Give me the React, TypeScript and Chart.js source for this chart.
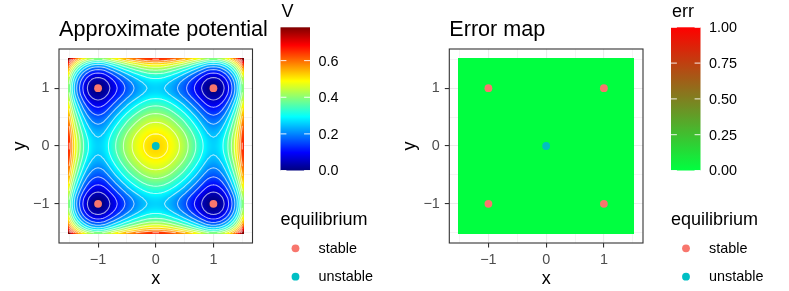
import React, { useEffect, useRef } from "react";
import { Chart, registerables } from "chart.js";

Chart.register(...registerables);

const FONT = "'Liberation Sans', Arial, Helvetica, sans-serif";
const W = 789;
const H = 291;

// ---------------- data ----------------
const GRID_COORDS = [
  -1.5, -1.45, -1.4, -1.35, -1.3, -1.25, -1.2, -1.15, -1.1, -1.05,
  -1.0, -0.95, -0.9, -0.85, -0.8, -0.75, -0.7, -0.65, -0.6, -0.55,
  -0.5, -0.45, -0.4, -0.35, -0.3, -0.25, -0.2, -0.15, -0.1, -0.05,
  0.0, 0.05, 0.1, 0.15, 0.2, 0.25, 0.3, 0.35, 0.4, 0.45,
  0.5, 0.55, 0.6, 0.65, 0.7, 0.75, 0.8, 0.85, 0.9, 0.95,
  1.0, 1.05, 1.1, 1.15, 1.2, 1.25, 1.3, 1.35, 1.4, 1.45, 1.5,
];

// potential read along one axis (through the minima); V(x,y) = profile(x) + profile(y)
const POTENTIAL_PROFILE = [
  0.391, 0.303, 0.232, 0.176, 0.129, 0.089, 0.057, 0.032, 0.014, 0.004,
  0.000, 0.004, 0.013, 0.029, 0.048, 0.068, 0.088, 0.107, 0.126, 0.144,
  0.162, 0.178, 0.193, 0.207, 0.220, 0.232, 0.242, 0.250, 0.256, 0.259,
  0.260, 0.259, 0.256, 0.250, 0.242, 0.232, 0.220, 0.207, 0.193, 0.178,
  0.162, 0.144, 0.126, 0.107, 0.088, 0.068, 0.048, 0.029, 0.013, 0.004,
  0.000, 0.004, 0.014, 0.032, 0.057, 0.089, 0.129, 0.176, 0.232, 0.303, 0.391,
];

// error map row (every row equal)
const ERROR_ROW = [
  0, 0, 0, 0, 0, 0, 0, 0, 0, 0, 0, 0, 0, 0, 0, 0, 0, 0, 0, 0,
  0, 0, 0, 0, 0, 0, 0, 0, 0, 0, 0, 0, 0, 0, 0, 0, 0, 0, 0, 0,
  0, 0, 0, 0, 0, 0, 0, 0, 0, 0, 0, 0, 0, 0, 0, 0, 0, 0, 0, 0, 0,
];

const STABLE_X = [-1, 1, -1, 1];
const STABLE_Y = [1, 1, -1, -1];
const UNSTABLE_X = [0];
const UNSTABLE_Y = [0];

const AXIS_MAJOR = [-1, 0, 1];
const AXIS_MINOR = [-1.5, -0.5, 0.5, 1.5];
const CONTOUR_LEVELS = [0.05, 0.1, 0.15, 0.2, 0.25, 0.3, 0.35, 0.4, 0.45, 0.5, 0.55, 0.6, 0.65, 0.7, 0.75];

const V_TICKS = [0, 0.2, 0.4, 0.6];
const V_TICK_LABELS = ["0.0", "0.2", "0.4", "0.6"];
const ERR_TICKS = [0, 0.25, 0.5, 0.75, 1];
const ERR_TICK_LABELS = ["0.00", "0.25", "0.50", "0.75", "1.00"];
const ERR_LIMITS = [0, 1];

const TITLES = ["Approximate potential", "Error map"];
const FILL_TITLES = ["V", "err"];
const LEGEND_TITLE = "equilibrium";
const LEGEND_LABELS = ["stable", "unstable"];

// colours
const JET = ["#00007F", "#0000FF", "#007FFF", "#00FFFF", "#7FFF7F", "#FFFF00", "#FF7F00", "#FF0000", "#7F0000"];
const ERR_LOW_HIGH = ["#00FF40", "#FF0000"];
const STABLE_COLOR = "#F8766D";
const UNSTABLE_COLOR = "#00BFC4";

// ---------------- colour helpers (linear RGB interpolation) ----------------
function hexToRgb(h: string): number[] {
  const n = parseInt(h.slice(1), 16);
  return [(n >> 16) & 255, (n >> 8) & 255, n & 255];
}
function makeRamp(colors: string[]) {
  const rgbs = colors.map(hexToRgb);
  return (t: number): number[] => {
    t = Math.max(0, Math.min(1, t));
    const p = t * (rgbs.length - 1);
    const k = Math.min(Math.floor(p), rgbs.length - 2);
    const f = p - k;
    const a = rgbs[k], b = rgbs[k + 1];
    return [0, 1, 2].map((q) => Math.round(a[q] + (b[q] - a[q]) * f));
  };
}
const css = (c: number[]) => `rgb(${c[0]},${c[1]},${c[2]})`;
const jetRamp = makeRamp(JET);
const errRamp = makeRamp(ERR_LOW_HIGH);

// ---------------- grids built from the arrays ----------------
const POT_GRID: number[][] = GRID_COORDS.map((_, j) => GRID_COORDS.map((__, i) => POTENTIAL_PROFILE[i] + POTENTIAL_PROFILE[j]));
const ERR_GRID: number[][] = GRID_COORDS.map(() => ERROR_ROW.slice());

function gridRange(g: number[][]): [number, number] {
  let lo = Infinity, hi = -Infinity;
  g.forEach((r) => r.forEach((v) => { if (v < lo) lo = v; if (v > hi) hi = v; }));
  return [lo, hi];
}

// ---------------- layout constants ----------------
const PANEL_TOP = 49;
const PANEL_BOTTOM = 243;
const Y_AXIS_W = 59;
const BAR_TOP = 27.3;
const BAR_BOTTOM = 170.5;
const BAR_W = 29.5;
const HALF_STEP = (GRID_COORDS[1] - GRID_COORDS[0]) / 2;
const AX_MIN = GRID_COORDS[0] - HALF_STEP - (GRID_COORDS[GRID_COORDS.length - 1] - GRID_COORDS[0] + 2 * HALF_STEP) * 0.05;
const AX_MAX = -AX_MIN;

type Spec = {
  left: number;
  right: number;
  title: string;
  fillTitle: string;
  grid: number[][];
  limits: [number, number];
  ramp: (t: number) => number[];
  contours: boolean;
  ticks: number[];
  tickLabels: string[];
};

const SPECS: Spec[] = [
  {
    left: 59, right: 252.5, title: TITLES[0], fillTitle: FILL_TITLES[0], grid: POT_GRID,
    limits: gridRange(POT_GRID), ramp: jetRamp, contours: true, ticks: V_TICKS, tickLabels: V_TICK_LABELS,
  },
  {
    left: 449.3, right: 643, title: TITLES[1], fillTitle: FILL_TITLES[1], grid: ERR_GRID,
    limits: [ERR_LIMITS[0], ERR_LIMITS[1]], ramp: errRamp, contours: false, ticks: ERR_TICKS, tickLabels: ERR_TICK_LABELS,
  },
];

function contourSegments(grid: number[][], level: number): number[][] {
  const xs = GRID_COORDS, ys = GRID_COORDS;
  const segs: number[][] = [];
  for (let j = 0; j < ys.length - 1; j++) {
    for (let i = 0; i < xs.length - 1; i++) {
      const v00 = grid[j][i], v10 = grid[j][i + 1], v01 = grid[j + 1][i], v11 = grid[j + 1][i + 1];
      const pts: (number[] | null)[] = [];
      const edge = (va: number, vb: number, xa: number, ya: number, xb: number, yb: number) => {
        if ((va < level) !== (vb < level)) {
          const f = (level - va) / (vb - va);
          pts.push([xa + f * (xb - xa), ya + f * (yb - ya)]);
        } else pts.push(null);
      };
      edge(v00, v10, xs[i], ys[j], xs[i + 1], ys[j]); // bottom
      edge(v10, v11, xs[i + 1], ys[j], xs[i + 1], ys[j + 1]); // right
      edge(v11, v01, xs[i + 1], ys[j + 1], xs[i], ys[j + 1]); // top
      edge(v01, v00, xs[i], ys[j + 1], xs[i], ys[j]); // left
      const present = pts.filter((p) => p) as number[][];
      if (present.length === 2) {
        segs.push([present[0][0], present[0][1], present[1][0], present[1][1]]);
      } else if (present.length === 4) {
        const c = (v00 + v10 + v01 + v11) / 4;
        const [b, r, t, l] = pts as number[][];
        if ((c < level) === (v00 < level)) {
          segs.push([b[0], b[1], r[0], r[1]]);
          segs.push([t[0], t[1], l[0], l[1]]);
        } else {
          segs.push([b[0], b[1], l[0], l[1]]);
          segs.push([r[0], r[1], t[0], t[1]]);
        }
      }
    }
  }
  return segs;
}

function fmtAxis(v: number) {
  return v < 0 ? "\u2212" + Math.abs(v) : String(v);
}
const isMajor = (v: any) => AXIS_MAJOR.includes(v);

function rasterImage(spec: Spec): HTMLCanvasElement {
  const n = GRID_COORDS.length;
  const off = document.createElement("canvas");
  off.width = n;
  off.height = n;
  const octx = off.getContext("2d") as CanvasRenderingContext2D;
  const img = octx.createImageData(n, n);
  const [lo, hi] = spec.limits;
  for (let j = 0; j < n; j++) {
    const row = n - 1 - j; // highest y on top
    for (let i = 0; i < n; i++) {
      const v = spec.grid[j][i];
      const c = spec.ramp(hi > lo ? (v - lo) / (hi - lo) : 0);
      const o = (row * n + i) * 4;
      img.data[o] = c[0];
      img.data[o + 1] = c[1];
      img.data[o + 2] = c[2];
      img.data[o + 3] = 255;
    }
  }
  octx.putImageData(img, 0, 0);
  return off;
}

function makePlugin(spec: Spec) {
  const raster = rasterImage(spec);
  return {
    id: "panelDecor",
    beforeDatasetsDraw(chart: any) {
      const ctx = chart.ctx as CanvasRenderingContext2D;
      const xs = chart.scales.x, ys = chart.scales.y;
      const n = GRID_COORDS.length;
      const x0 = xs.getPixelForValue(GRID_COORDS[0] - HALF_STEP);
      const x1 = xs.getPixelForValue(GRID_COORDS[n - 1] + HALF_STEP);
      const y0 = ys.getPixelForValue(GRID_COORDS[n - 1] + HALF_STEP);
      const y1 = ys.getPixelForValue(GRID_COORDS[0] - HALF_STEP);
      ctx.save();
      ctx.imageSmoothingEnabled = true;
      (ctx as any).imageSmoothingQuality = "high";
      ctx.drawImage(raster, x0, y0, x1 - x0, y1 - y0);
      if (spec.contours) {
        ctx.strokeStyle = "rgba(255,255,255,0.65)";
        ctx.lineWidth = 1.05;
        ctx.lineCap = "round";
        ctx.lineJoin = "round";
        for (const lev of CONTOUR_LEVELS) {
          const segs = contourSegments(spec.grid, lev);
          ctx.beginPath();
          for (const s of segs) {
            ctx.moveTo(xs.getPixelForValue(s[0]), ys.getPixelForValue(s[1]));
            ctx.lineTo(xs.getPixelForValue(s[2]), ys.getPixelForValue(s[3]));
          }
          ctx.stroke();
        }
      }
      ctx.restore();
    },
    afterDatasetsDraw(chart: any) {
      const ctx = chart.ctx as CanvasRenderingContext2D;
      const a = chart.chartArea;
      ctx.save();
      ctx.strokeStyle = "#333333";
      ctx.lineWidth = 1.1;
      ctx.strokeRect(a.left, a.top, a.right - a.left, a.bottom - a.top);
      ctx.restore();
    },
    afterDraw(chart: any) {
      const ctx = chart.ctx as CanvasRenderingContext2D;
      const a = chart.chartArea;
      ctx.save();
      ctx.fillStyle = "#000000";
      // title
      ctx.font = `21.6px ${FONT}`;
      ctx.textAlign = "left";
      ctx.textBaseline = "alphabetic";
      ctx.fillText(spec.title, a.left, 35.5);
      // axis titles
      ctx.font = `18px ${FONT}`;
      ctx.textAlign = "center";
      ctx.fillText("x", (a.left + a.right) / 2, 284);
      ctx.save();
      ctx.translate(a.left - 34.5, (a.top + a.bottom) / 2);
      ctx.rotate(-Math.PI / 2);
      ctx.fillText("y", 0, 0);
      ctx.restore();

      // colourbar
      const bx = a.right + 28;
      const [lo, hi] = spec.limits;
      const grad = ctx.createLinearGradient(0, BAR_BOTTOM, 0, BAR_TOP);
      for (let k = 0; k <= 80; k++) grad.addColorStop(k / 80, css(spec.ramp(k / 80)));
      ctx.fillStyle = grad;
      ctx.fillRect(bx, BAR_TOP, BAR_W, BAR_BOTTOM - BAR_TOP);
      ctx.fillStyle = "#000000";
      ctx.textAlign = "left";
      ctx.font = `18px ${FONT}`;
      ctx.fillText(spec.fillTitle, bx + 1, 16.5);
      ctx.font = `14.4px ${FONT}`;
      ctx.textBaseline = "middle";
      const tl = BAR_W / 5;
      spec.ticks.forEach((v, k) => {
        const y = BAR_BOTTOM - ((v - lo) / (hi - lo)) * (BAR_BOTTOM - BAR_TOP);
        ctx.strokeStyle = "rgba(255,255,255,0.9)";
        ctx.lineWidth = 1;
        ctx.beginPath();
        ctx.moveTo(bx, y);
        ctx.lineTo(bx + tl, y);
        ctx.moveTo(bx + BAR_W - tl, y);
        ctx.lineTo(bx + BAR_W, y);
        ctx.stroke();
        ctx.fillStyle = "#000000";
        ctx.fillText(spec.tickLabels[k], bx + 38, y + 1);
      });

      // equilibrium legend
      ctx.textBaseline = "alphabetic";
      ctx.font = `18px ${FONT}`;
      ctx.fillText(LEGEND_TITLE, bx, 224.5);
      ctx.font = `14.4px ${FONT}`;
      ctx.textBaseline = "middle";
      const keyY = [248.3, 276.7];
      chart.data.datasets.forEach((ds: any, k: number) => {
        ctx.fillStyle = ds.backgroundColor;
        ctx.beginPath();
        ctx.arc(bx + 15, keyY[k], 3.9, 0, Math.PI * 2);
        ctx.fill();
        ctx.fillStyle = "#000000";
        ctx.fillText(LEGEND_LABELS[k], bx + 38, keyY[k] + 0.5);
      });
      ctx.restore();
    },
  };
}

function axisConfig(kind: "x" | "y") {
  return {
    type: "linear",
    min: AX_MIN,
    max: AX_MAX,
    afterBuildTicks: (scale: any) => {
      scale.ticks = [...AXIS_MINOR, ...AXIS_MAJOR].sort((p, q) => p - q).map((v) => ({ value: v }));
    },
    afterFit: (scale: any) => {
      if (kind === "x") scale.height = H - PANEL_BOTTOM;
      else scale.width = Y_AXIS_W;
    },
    border: { display: false },
    grid: {
      color: "#EBEBEB",
      lineWidth: (c: any) => (c.tick && isMajor(c.tick.value) ? 1.1 : 0.55),
      tickColor: (c: any) => (c.tick && isMajor(c.tick.value) ? "#333333" : "rgba(0,0,0,0)"),
      tickLength: 4.5,
      tickWidth: 1.1,
      drawTicks: true,
    },
    ticks: {
      autoSkip: false,
      maxRotation: 0,
      minRotation: 0,
      padding: kind === "x" ? 3.5 : 5,
      color: "#4D4D4D",
      font: { family: FONT, size: 14.4 },
      callback: (v: any) => (isMajor(v) ? fmtAxis(v) : ""),
    },
  };
}

function buildConfig(spec: Spec): any {
  return {
    type: "scatter",
    data: {
      datasets: [
        {
          label: LEGEND_LABELS[0],
          data: STABLE_X.map((x, k) => ({ x, y: STABLE_Y[k] })),
          backgroundColor: STABLE_COLOR,
          pointRadius: 3.9,
          pointBorderWidth: 0,
          pointHoverRadius: 3.9,
        },
        {
          label: LEGEND_LABELS[1],
          data: UNSTABLE_X.map((x, k) => ({ x, y: UNSTABLE_Y[k] })),
          backgroundColor: UNSTABLE_COLOR,
          pointRadius: 3.9,
          pointBorderWidth: 0,
          pointHoverRadius: 3.9,
        },
      ],
    },
    options: {
      animation: false,
      responsive: false,
      maintainAspectRatio: false,
      events: [],
      layout: {
        padding: { left: spec.left - Y_AXIS_W, right: W - spec.right, top: PANEL_TOP, bottom: 0 },
      },
      plugins: {
        legend: { display: false },
        tooltip: { enabled: false },
        title: { display: false },
      },
      scales: { x: axisConfig("x"), y: axisConfig("y") },
    },
    plugins: [makePlugin(spec)],
  };
}

export default function App() {
  const leftRef = useRef<HTMLCanvasElement>(null);
  const rightRef = useRef<HTMLCanvasElement>(null);
  useEffect(() => {
    const charts = [
      new Chart(leftRef.current as HTMLCanvasElement, buildConfig(SPECS[0])),
      new Chart(rightRef.current as HTMLCanvasElement, buildConfig(SPECS[1])),
    ];
    return () => charts.forEach((c) => c.destroy());
  }, []);
  const cs: React.CSSProperties = { position: "absolute", left: 0, top: 0, width: W, height: H };
  return (
    <div style={{ position: "fixed", left: 0, top: 0, width: W, height: H, background: "#ffffff" }}>
      <canvas ref={leftRef} width={W} height={H} style={cs} />
      <canvas ref={rightRef} width={W} height={H} style={cs} />
    </div>
  );
}
